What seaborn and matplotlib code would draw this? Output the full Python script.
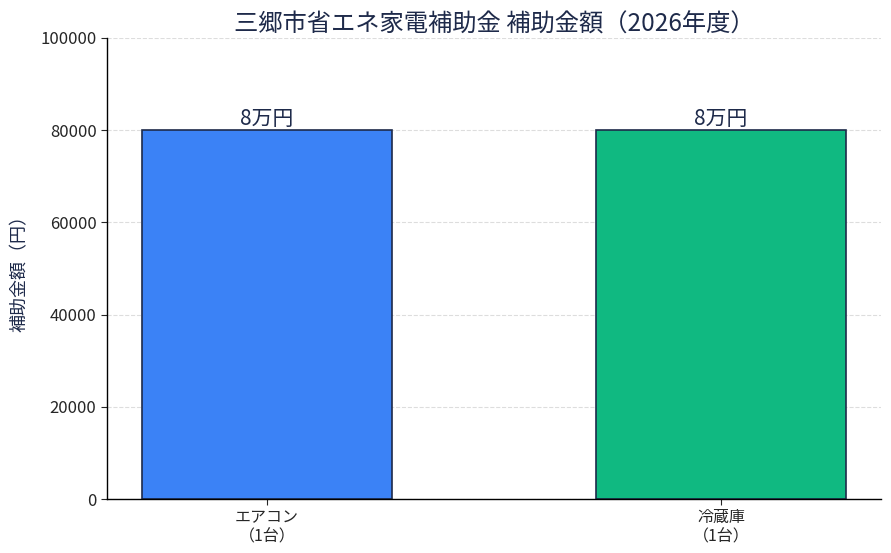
import matplotlib
matplotlib.use("Agg")
import matplotlib.pyplot as plt
import seaborn as sns
import pandas as pd

categories = ["エアコン\n（1台）", "冷蔵庫\n（1台）"]
values = [80000, 80000]
value_labels = ["8万円", "8万円"]
colors = ["#3b82f6", "#10b981"]
yticks = [0, 20000, 40000, 60000, 80000, 100000]

sns.set_style("white")
plt.rcParams['font.family'] = ['Noto Sans CJK JP', 'DejaVu Sans']

df = pd.DataFrame({"cat": categories, "val": values})

fig = plt.figure(figsize=(8.91, 5.53), dpi=100)
ax = fig.add_axes([0.120, 0.0976, 0.869, 0.8337])

sns.barplot(data=df, x="cat", y="val", hue="cat", palette=colors, dodge=False,
            width=0.55, saturation=1, edgecolor="#1e2a4a", linewidth=1.2,
            legend=False, ax=ax, zorder=2)

for i, (v, lab) in enumerate(zip(values, value_labels)):
    ax.text(i, v, lab, ha="center", va="bottom", fontsize=15, color="#1e2a4a")

ax.set_xlim(-0.3525, 1.3525)
ax.set_ylim(0, 100000)
ax.set_yticks(yticks)
ax.set_yticklabels([str(t) for t in yticks], fontsize=12)
ax.tick_params(axis="x", labelsize=11.5, pad=3)
ax.tick_params(axis="both", which="major", length=4, left=True, bottom=True)
ax.set_xlabel("")
ax.set_ylabel("補助金額（円）", fontsize=13, color="#1e2a4a", labelpad=8)
ax.set_title("三郷市省エネ家電補助金 補助金額（2026年度）", fontsize=17.5,
             color="#1e2a4a", pad=5)
ax.yaxis.grid(True, linestyle="--", color="#dddddd", linewidth=0.8, zorder=0)
ax.set_axisbelow(True)
sns.despine(ax=ax)
for s in ["left", "bottom"]:
    ax.spines[s].set_color("black")
    ax.spines[s].set_linewidth(1.0)

fig.savefig("out.png", dpi=100)
